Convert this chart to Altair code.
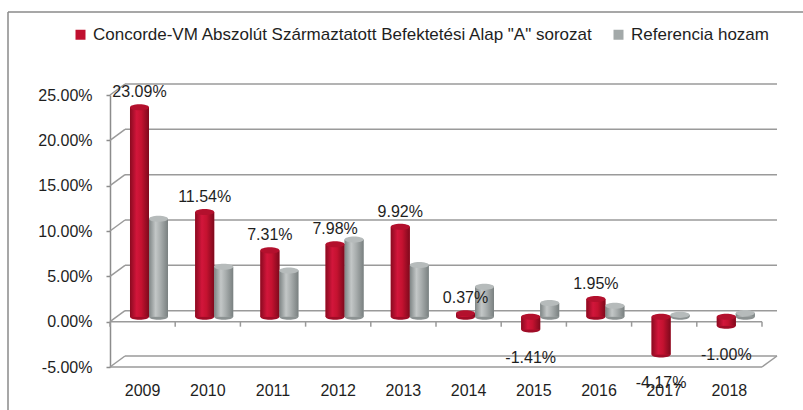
import altair as alt
import pandas as pd

# ---- data ----
years = ["2009", "2010", "2011", "2012", "2013", "2014", "2015", "2016", "2017", "2018"]
fund = [23.09, 11.54, 7.31, 7.98, 9.92, 0.37, -1.41, 1.95, -4.17, -1.00]
bench = [10.8, 5.5, 5.1, 8.5, 5.7, 3.3, 1.5, 1.2, 0.2, 0.4]
series_names = ['Concorde-VM Abszolút Származtatott Befektetési Alap "A" sorozat', "Referencia hozam"]
grid_values = [-5, 0, 5, 10, 15, 20, 25]

rows = []
for yr, f, b in zip(years, fund, bench):
    rows.append({"year": yr, "series": series_names[0], "s": 0, "value": f})
    rows.append({"year": yr, "series": series_names[1], "s": 1, "value": b})
df = pd.DataFrame(rows)
grid_df = pd.DataFrame({"v": grid_values})
year_df = pd.DataFrame({"year": years})
one_df = pd.DataFrame({"k": [0]})

FONT = "Liberation Sans"
W, H = 652, 272
DX, DY = 15, -11
GRID = "#9a9a9a"
TXT = "#1e1e1e"
RED = "#C0102F"
GRAY = "#A3A9A9"

grad_red = alt.LinearGradient(gradient="linear", x1=0, x2=1, y1=0, y2=0, stops=[
    alt.GradientStop(offset=0, color="#8A0A20"),
    alt.GradientStop(offset=0.35, color="#D2163B"),
    alt.GradientStop(offset=0.6, color="#C41230"),
    alt.GradientStop(offset=1, color="#7E091C")])
grad_gray = alt.LinearGradient(gradient="linear", x1=0, x2=1, y1=0, y2=0, stops=[
    alt.GradientStop(offset=0, color="#7E8585"),
    alt.GradientStop(offset=0.35, color="#C3C7C7"),
    alt.GradientStop(offset=0.6, color="#A9AEAE"),
    alt.GradientStop(offset=1, color="#798080")])

ELL = "M-1,0A1,0.32,0,1,1,1,0A1,0.32,0,1,1,-1,0Z"
PCT = "(datum.value < 0 ? '-' : '') + format(abs(datum.value), '.2f') + '%'"

x_scale = alt.Scale(domain=years, paddingInner=0, paddingOuter=0)
x_axis = alt.Axis(title=None, domain=False, ticks=False, labelAngle=0, labelFontSize=16,
                  labelPadding=15, labelColor=TXT, labelFont=FONT)
y_scale = alt.Scale(domain=[-5, 25], nice=False, zero=False)
y_axis = alt.Axis(values=grid_values, title=None, grid=False, domainColor="#8c8c8c", domainWidth=1.5,
                  tickSize=4, tickColor="#8c8c8c", tickWidth=1.5,
                  labelExpr=PCT, labelPadding=14,
                  labelFontSize=16, labelColor=TXT, labelFont=FONT)
xo_scale = alt.Scale(domain=series_names, paddingInner=0, paddingOuter=0.716, align=0.735)

X = alt.X("year:N", sort=years, scale=x_scale, axis=x_axis)
XO = alt.XOffset("series:N", scale=xo_scale)

# back wall gridlines and their diagonals
grid_back = alt.Chart(grid_df).mark_rule(color=GRID, strokeWidth=1.5, yOffset=DY).encode(
    y=alt.Y("v:Q", scale=y_scale, axis=y_axis), x=alt.value(DX), x2=alt.value(W + DX))
grid_diag = alt.Chart(grid_df).mark_rule(color=GRID, strokeWidth=1.5, y2Offset=DY).encode(
    y=alt.Y("v:Q", scale=y_scale, axis=y_axis), y2="v:Q", x=alt.value(0), x2=alt.value(DX))

# floor front edge and right diagonal
floor_front = alt.Chart(one_df).mark_rule(color=GRID, strokeWidth=1.5).encode(
    y=alt.Y(datum=-5, scale=y_scale, axis=y_axis), x=alt.value(0), x2=alt.value(W))
floor_right = alt.Chart(one_df).mark_rule(color=GRID, strokeWidth=1.5, y2Offset=DY).encode(
    y=alt.Y(datum=-5, scale=y_scale, axis=y_axis), y2=alt.Y2(datum=-5), x=alt.value(W), x2=alt.value(W + DX))

# zero line (front) with tick marks
zero_front = alt.Chart(one_df).mark_rule(color=GRID, strokeWidth=1.5).encode(
    y=alt.Y(datum=0, scale=y_scale, axis=y_axis), x=alt.value(0), x2=alt.value(W))
zero_ticks = alt.Chart(year_df).mark_rule(color=GRID, strokeWidth=1.5, y2Offset=5).encode(
    x=alt.X("year:N", sort=years, scale=x_scale, axis=x_axis, bandPosition=0),
    y=alt.Y(datum=0, scale=y_scale, axis=y_axis), y2=alt.Y2(datum=0))
zero_tick_end = alt.Chart(one_df).mark_rule(color=GRID, strokeWidth=1.5, y2Offset=5).encode(
    x=alt.value(W), y=alt.Y(datum=0, scale=y_scale, axis=y_axis), y2=alt.Y2(datum=0))

base = alt.Chart(df).transform_calculate(
    top="max(datum.value, 0)", bot="min(datum.value, 0)", label=PCT)

bottom_caps = base.mark_point(shape=ELL, size=361, filled=True, opacity=1, strokeWidth=0, yOffset=-5).encode(
    x=X, xOffset=XO, y=alt.Y("bot:Q", scale=y_scale, axis=y_axis),
    fill=alt.condition("datum.s == 0", alt.value("#A00C27"), alt.value("#8C9292")))

# solid bars carry the legend
bars_solid = base.mark_bar(yOffset=-5, y2Offset=-5).encode(
    x=X, xOffset=XO,
    y=alt.Y("value:Q", scale=y_scale, axis=y_axis), y2=alt.Y2(datum=0),
    color=alt.Color("series:N", scale=alt.Scale(domain=series_names, range=[RED, GRAY]),
                    legend=alt.Legend(title=None, orient="none", legendX=-38, legendY=-69,
                                      direction="horizontal", symbolType="square", symbolSize=100,
                                      symbolStrokeWidth=0, labelFontSize=17, labelFont=FONT,
                                      labelColor=TXT, columnPadding=16, labelOffset=4,
                                      labelLimit=0)))

# shaded (cylinder-like) bars drawn over them
bars_grad = base.mark_bar(yOffset=-5, y2Offset=-5).encode(
    x=X, xOffset=XO,
    y=alt.Y("value:Q", scale=y_scale, axis=y_axis), y2=alt.Y2(datum=0),
    fill=alt.condition("datum.s == 0", alt.value(grad_red), alt.value(grad_gray)))

top_caps = base.mark_point(shape=ELL, size=361, filled=True, opacity=1, strokeWidth=0, yOffset=-5).encode(
    x=X, xOffset=XO, y=alt.Y("top:Q", scale=y_scale, axis=y_axis),
    fill=alt.condition("datum.s == 0", alt.value("#B3102D"), alt.value("#B6BBBB")))

labels_pos = base.transform_filter("datum.s == 0 && datum.value >= 0").mark_text(
    dy=-20, fontSize=16, font=FONT, color=TXT).encode(
    x=X, xOffset=XO, y=alt.Y("value:Q", scale=y_scale, axis=y_axis), text="label:N")
labels_neg = base.transform_filter("datum.s == 0 && datum.value < 0").mark_text(
    dy=24, fontSize=16, font=FONT, color=TXT).encode(
    x=X, xOffset=XO, y=alt.Y("value:Q", scale=y_scale, axis=y_axis), text="label:N")

# outer frame of the chart (top and left edges visible)
frame_top = alt.Chart(one_df).mark_rule(color="#8a8a8a", strokeWidth=1.5).encode(
    x=alt.value(-102), x2=alt.value(700), y=alt.value(-83))
frame_left = alt.Chart(one_df).mark_rule(color="#8a8a8a", strokeWidth=1.5).encode(
    x=alt.value(-102), y=alt.value(-83), y2=alt.value(320))

chart = alt.layer(
    frame_top, frame_left,
    grid_back, grid_diag, floor_front, floor_right, zero_front, zero_ticks, zero_tick_end,
    bottom_caps, bars_solid, bars_grad, top_caps, labels_pos, labels_neg
).properties(
    width=W, height=H,
    autosize=alt.AutoSizeParams(type="none"),
    padding={"left": 110, "top": 95, "right": 41, "bottom": 43},
    background="white",
).configure_view(stroke=None)

chart.save("out.html", embed_options={"renderer": "svg", "actions": False})
